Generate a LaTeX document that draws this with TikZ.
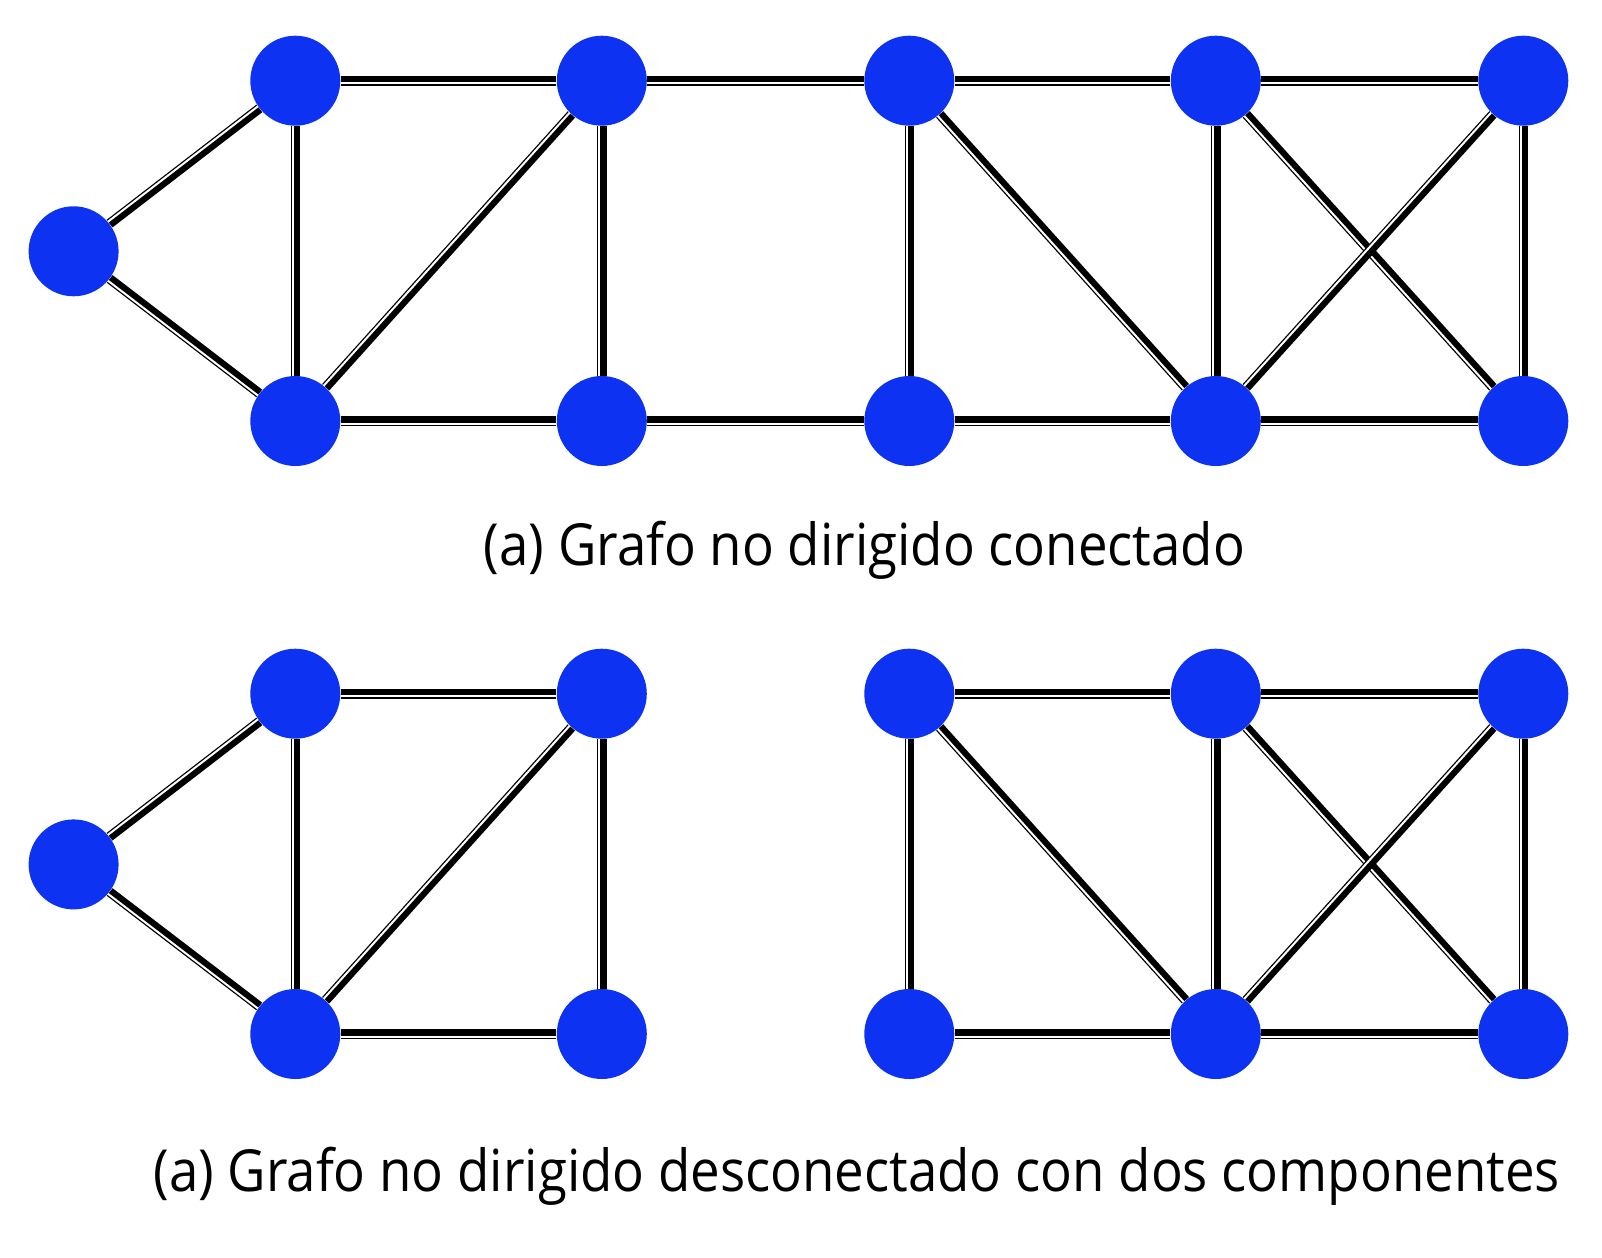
\documentclass[tikz,border=0pt]{standalone}
\usepackage{fontspec}
\setmainfont{Open Sans}[FakeStretch=0.91]
\usetikzlibrary{calc}
\pgfdeclarelayer{bg}
\pgfsetlayers{bg,main}
\definecolor{nodeblue}{RGB}{13,50,242}
\tikzset{
  vtx/.style={circle,fill=nodeblue,draw=none,minimum size=45pt,inner sep=0pt},
  eb/.style={draw=black,line width=4.8pt},
  ew/.style={draw=white,line width=1pt},
  captext/.style={font=\fontsize{29pt}{34pt}\selectfont,inner sep=0pt,anchor=base}
}
\newcommand\edg[2]{%
  \draw[eb] (#1) -- (#2);
  \draw[ew] ($(#1)!1.25pt!-90:(#2)$) -- ($(#2)!1.25pt!90:(#1)$);}
\begin{document}
\begin{tikzpicture}[x=0.5pt,y=-0.5pt]
\useasboundingbox (0,0) rectangle (1602,1258);
% top graph
\node[vtx] (L) at (73.6,251.3) {};
\node[vtx] (A) at (295.3,80.7) {};
\node[vtx] (B) at (295.3,421) {};
\node[vtx] (C) at (601.8,80.7) {};
\node[vtx] (D) at (601.8,421) {};
\node[vtx] (E) at (909.3,80.7) {};
\node[vtx] (F) at (909.3,421) {};
\node[vtx] (G) at (1215.8,80.7) {};
\node[vtx] (H) at (1215.8,421) {};
\node[vtx] (I) at (1523.3,80.7) {};
\node[vtx] (J) at (1523.3,421) {};
% bottom graph
\node[vtx] (L2) at (73.6,864.4) {};
\node[vtx] (A2) at (295.3,693.7) {};
\node[vtx] (B2) at (295.3,1034) {};
\node[vtx] (C2) at (601.8,693.7) {};
\node[vtx] (D2) at (601.8,1034) {};
\node[vtx] (E2) at (909.3,693.7) {};
\node[vtx] (F2) at (909.3,1034) {};
\node[vtx] (G2) at (1215.8,693.7) {};
\node[vtx] (H2) at (1215.8,1034) {};
\node[vtx] (I2) at (1523.3,693.7) {};
\node[vtx] (J2) at (1523.3,1034) {};
\begin{pgfonlayer}{bg}
\edg{A}{L} \edg{L}{B} \edg{A}{B} \edg{A}{C} \edg{C}{B} \edg{B}{D} \edg{C}{D}
\edg{C}{E} \edg{D}{F} \edg{E}{F} \edg{E}{H} \edg{E}{G} \edg{F}{H} \edg{G}{H}
\edg{G}{I} \edg{G}{J} \edg{I}{H} \edg{I}{J} \edg{H}{J}
\edg{A2}{L2} \edg{L2}{B2} \edg{A2}{B2} \edg{A2}{C2} \edg{C2}{B2} \edg{B2}{D2} \edg{C2}{D2}
\edg{E2}{G2} \edg{E2}{F2} \edg{E2}{H2} \edg{F2}{H2} \edg{G2}{H2}
\edg{G2}{I2} \edg{G2}{J2} \edg{I2}{H2} \edg{I2}{J2} \edg{H2}{J2}
\end{pgfonlayer}
\node[captext] (cap1) at (864.5,565) {(a) Grafo no dirigido conectado};
\node[captext] (cap2) at (856.7,1191) {(a) Grafo no dirigido desconectado con dos componentes};
\end{tikzpicture}
\end{document}
